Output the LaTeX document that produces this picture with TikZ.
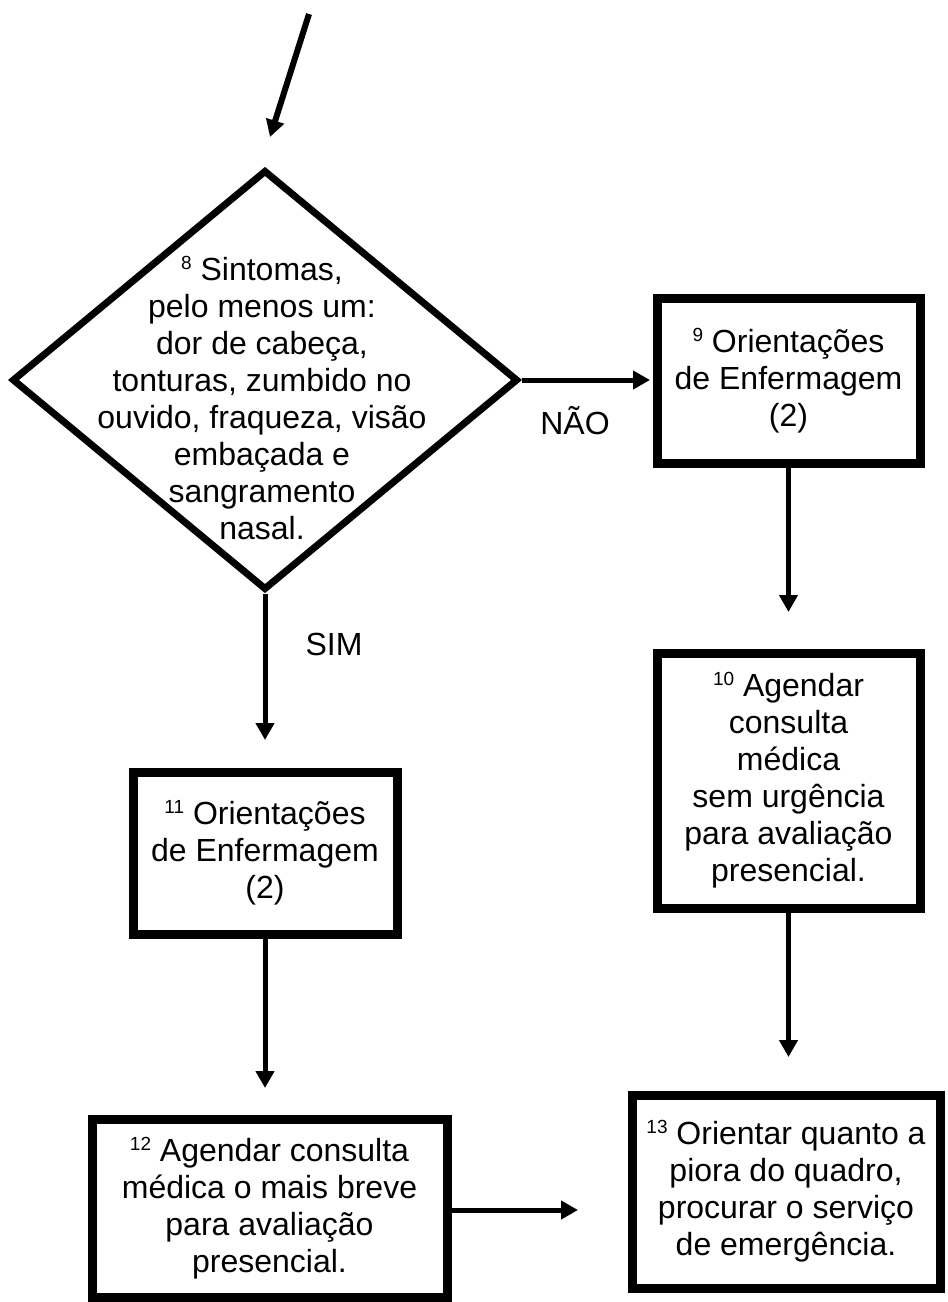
\documentclass[tikz,border=0pt]{standalone}
\usepackage{fontspec}
\setmainfont{Liberation Sans}
\usetikzlibrary{arrows.meta,shapes.geometric}
\newcommand\supnum[1]{\raisebox{11pt}{\fontsize{19}{19}\selectfont #1}}
\begin{document}
\begin{tikzpicture}[x=1pt,y=-1pt,
  txt/.style={align=center, font=\fontsize{32}{37}\selectfont},
  box/.style={draw, line width=9pt, inner sep=0pt, txt},
  arr/.style={line width=5pt, -{Triangle[length=17pt,width=18pt]}},
  lbl/.style={font=\fontsize{32}{37}\selectfont}]
\useasboundingbox (0,0) rectangle (948,1302);
% decision
\node[diamond, draw, line width=7pt, minimum width=506pt, minimum height=420pt, inner sep=0pt] (d) at (265,380) {};
\node[txt] (dt) at (262,398) {\supnum{8} Sintomas,\\pelo menos um:\\dor de cabeça,\\tonturas, zumbido no\\ouvido, fraqueza, visão\\embaçada e\\sangramento\\nasal.};
% boxes
\node[box, minimum width=263pt, minimum height=165pt] (b9) at (788.5,380.5) {\supnum{9} Orientações\\de Enfermagem\\(2)};
\node[box, minimum width=263pt, minimum height=255pt] (b10) at (788.5,780.5) {\supnum{10} Agendar\\consulta\\médica\\sem urgência\\para avaliação\\presencial.};
\node[box, minimum width=264pt, minimum height=162pt] (b11) at (265,853) {\supnum{11} Orientações\\de Enfermagem\\(2)};
\node[box, minimum width=355pt, minimum height=178pt] (b12) at (269.5,1208) {\supnum{12} Agendar consulta\\médica o mais breve\\para avaliação\\presencial.};
\node[box, minimum width=308pt, minimum height=193pt] (b13) at (786,1191.5) {\supnum{13} Orientar quanto a\\piora do quadro,\\procurar o serviço\\de emergência.};
% free ends
\coordinate (s0) at (309,14);
\coordinate (s1) at (270,137);
\coordinate (e9) at (650,380);
\coordinate (e11) at (265,740);
\coordinate (e10) at (788.5,612);
\coordinate (e12) at (265,1088);
\coordinate (e13) at (788.5,1057);
\coordinate (e1213) at (578,1210);
% connectors
\draw[arr, line width=6pt] (s0) -- (s1);
\draw[arr] (d.east) -- (e9);
\draw[arr] (d.south) -- (e11);
\draw[arr] (b9.south) -- (e10);
\draw[arr] (b11.south) -- (e12);
\draw[arr] (b10.south) -- (e13);
\draw[arr] (b12.east |- e1213) -- (e1213);
% labels
\node[lbl] (no) at (575,421) {NÃO};
\node[lbl] (yes) at (334,644) {SIM};
\end{tikzpicture}
\end{document}
